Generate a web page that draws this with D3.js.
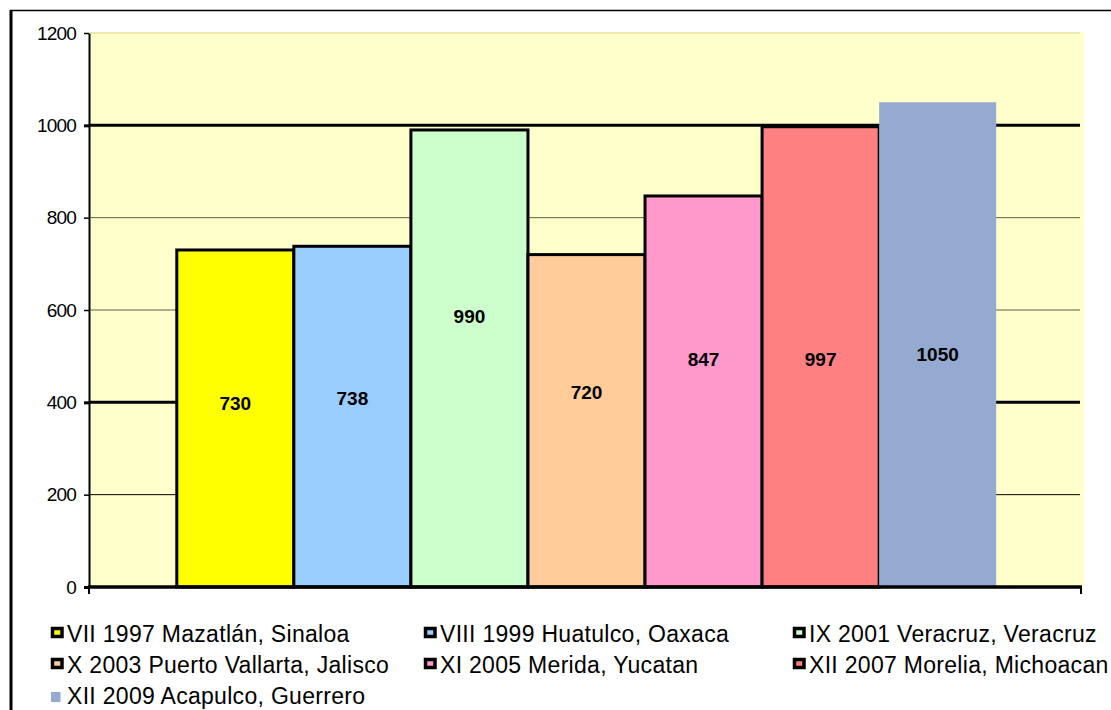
<!DOCTYPE html>
<html>
<head>
<meta charset="utf-8">
<script src="https://cdn.jsdelivr.net/npm/d3@7"></script>
<style>
  html, body { margin: 0; padding: 0; background: #fff; }
  svg { display: block; font-family: "Liberation Sans", Arial, sans-serif; }
</style>
</head>
<body>
<svg id="chart" width="1111" height="710"></svg>
<script>
// ---- data ----
const categories = [
  "VII 1997 Mazatlán, Sinaloa",
  "VIII 1999 Huatulco, Oaxaca",
  "IX 2001 Veracruz, Veracruz",
  "X 2003 Puerto Vallarta, Jalisco",
  "XI 2005 Merida, Yucatan",
  "XII 2007 Morelia, Michoacan",
  "XII 2009 Acapulco, Guerrero"
];
const values = [730, 738, 990, 720, 847, 997, 1050];
const yTicks = [0, 200, 400, 600, 800, 1000, 1200];
const colors = ["#FFFF00", "#99CCFF", "#CCFFCC", "#FFCC99", "#FF99CC", "#FF8080", "#95AAD0"];

// ---- layout ----
const svg = d3.select("#chart");
const pLeft = 89, pRight = 1084, pTop = 33, pBottom = 587;

const y = d3.scaleLinear().domain([0, 1200]).range([pBottom, pTop]);
const x = d3.scaleBand().domain(categories).range([pLeft, pRight]).paddingInner(0).paddingOuter(0.75);

// outer frame
svg.append("line").attr("x1", 10).attr("x2", 1111).attr("y1", 10.5).attr("y2", 10.5)
  .attr("stroke", "#000").attr("stroke-width", 1.5);
svg.append("line").attr("x1", 11).attr("x2", 11).attr("y1", 10).attr("y2", 710)
  .attr("stroke", "#000").attr("stroke-width", 3);

// plot background
svg.append("rect").attr("x", pLeft).attr("y", pTop - 1).attr("width", pRight - pLeft).attr("height", pBottom - pTop + 1)
  .attr("fill", "#FFFFCC");

// gridlines
const gridStyle = {1200: ["#E6E2A8", 1.5], 1000: ["#000", 3], 800: ["#5E5E4A", 1], 600: ["#5E5E4A", 1], 400: ["#000", 3], 200: ["#000", 1]};
svg.append("g").selectAll("line").data(yTicks.filter(d => d > 0)).join("line")
  .attr("x1", pLeft).attr("x2", pRight - 4)
  .attr("y1", d => y(d)).attr("y2", d => y(d))
  .attr("stroke", d => gridStyle[d][0]).attr("stroke-width", d => gridStyle[d][1]);

// bars
const strokeW = [3, 3, 3, 3, 3, 3, 0];
svg.append("g").selectAll("rect").data(categories).join("rect")
  .attr("x", d => x(d))
  .attr("y", (d, i) => y(values[i]))
  .attr("width", x.bandwidth())
  .attr("height", (d, i) => pBottom - y(values[i]))
  .attr("fill", (d, i) => colors[i])
  .attr("stroke", (d, i) => strokeW[i] ? "#000" : "none")
  .attr("stroke-width", (d, i) => strokeW[i]);

// value labels (placement inside bars, as in the original)
const labelY = [403, 398, 316, 392, 359, 359, 354];
svg.append("g").selectAll("text").data(categories).join("text")
  .attr("x", d => x(d) + x.bandwidth() / 2)
  .attr("y", (d, i) => labelY[i])
  .attr("dy", "0.35em")
  .attr("text-anchor", "middle")
  .style("font-size", "19px").style("font-weight", "bold")
  .style("font-family", "'Liberation Sans', Arial, sans-serif")
  .attr("fill", "#000")
  .text((d, i) => values[i]);

// y axis
const yAxis = svg.append("g").attr("transform", `translate(${pLeft},0)`)
  .call(d3.axisLeft(y).tickValues(yTicks).tickFormat(d3.format("d")).tickSize(5).tickSizeOuter(0).tickPadding(8));
yAxis.attr("font-size", null).attr("font-family", null);
yAxis.select(".domain").attr("stroke", "#000").attr("stroke-width", 2);
yAxis.selectAll(".tick line").attr("stroke", "#000")
  .attr("stroke-width", d => (d === 1000 || d === 400 || d === 0) ? 3 : 1.5);
yAxis.selectAll(".tick text").attr("fill", "#000")
  .style("font-size", "19px")
  .style("letter-spacing", "-0.8px")
  .style("font-family", "'Liberation Sans', Arial, sans-serif");

// x axis
svg.append("line").attr("x1", pLeft - 1).attr("x2", pRight - 2).attr("y1", pBottom).attr("y2", pBottom)
  .attr("stroke", "#000").attr("stroke-width", 3.5);
svg.append("g").selectAll("line").data([pLeft, pRight - 3]).join("line")
  .attr("x1", d => d).attr("x2", d => d).attr("y1", pBottom).attr("y2", pBottom + 7)
  .attr("stroke", "#000").attr("stroke-width", 2);

// legend
const legCols = [51, 424, 793];
const legRows = [642, 673, 704];
const leg = svg.append("g").selectAll("g").data(categories).join("g")
  .attr("transform", (d, i) => `translate(${legCols[i % 3]},${legRows[Math.floor(i / 3)]})`);
leg.append("rect")
  .attr("x", (d, i) => i < 6 ? 1.5 : 0)
  .attr("y", (d, i) => i < 6 ? -13.5 : -12)
  .attr("width", 9.5)
  .attr("height", (d, i) => i < 6 ? 8 : 10)
  .attr("fill", (d, i) => colors[i])
  .attr("stroke", (d, i) => i < 6 ? "#000" : "none")
  .attr("stroke-width", 3.5);
leg.append("text")
  .attr("x", 16)
  .attr("y", 0)
  .style("font-size", "23px")
  .style("letter-spacing", "0.3px")
  .style("font-family", "'Liberation Sans', Arial, sans-serif")
  .attr("fill", "#000")
  .text(d => d);
</script>
</body>
</html>
